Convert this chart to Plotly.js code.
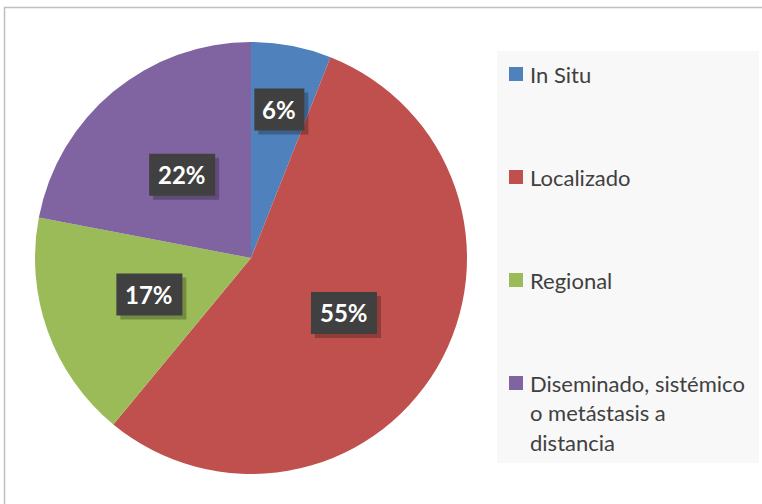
<!DOCTYPE html>
<html>
<head>
<meta charset="utf-8">
<script src="https://cdn.plot.ly/plotly-3.0.1.min.js"></script>
<style>html,body{margin:0;padding:0;background:#fff;}#chart{width:762px;height:504px;}</style>
</head>
<body>
<div id="chart"></div>
<script>
// Data
var categories = ["In Situ", "Localizado", "Regional", "Diseminado, sistémico<br>o metástasis a<br>distancia"];
var values = [6, 55, 17, 22];
var colors = ["#4F81BD", "#C0504D", "#9BBB59", "#8064A2"];

// Layout helpers (pixel -> paper)
var W = 762, H = 504;
function px(x){ return x / W; }
function py(y){ return 1 - y / H; }

var cx = 251, cy = 258, R = 216;
var labelRadius = [0.70, 0.5, 0.5, 0.5];

var total = values.reduce(function(a,b){return a+b;}, 0);
var annotations = [];
var shapes = [
  {type: "rect", xref: "paper", yref: "paper", x0: px(4.5), y0: py(7.5), x1: px(780), y1: py(520),
   line: {color: "#BFBFBF", width: 1.5}, fillcolor: "rgba(0,0,0,0)", layer: "below"},
  {type: "rect", xref: "paper", yref: "paper", x0: px(497), y0: py(51), x1: px(759), y1: py(463),
   line: {width: 0}, fillcolor: "#F8F8F8", layer: "below"}
];
var cum = 0;
values.forEach(function(v, i){
  var mid = (cum + v/2) / total * 2 * Math.PI;
  cum += v;
  var lx = cx + Math.sin(mid) * R * labelRadius[i];
  var ly = cy - Math.cos(mid) * R * labelRadius[i];
  var txt = Math.round(v / total * 100) + "%";
  var w = 18 + 16 * txt.length, h = 42;
  shapes.push({type: "rect", xref: "paper", yref: "paper", layer: "above",
    x0: px(lx - w/2 + 4), x1: px(lx + w/2 + 4), y0: py(ly - h/2 + 4), y1: py(ly + h/2 + 4),
    line: {width: 0}, fillcolor: "rgba(0,0,0,0.25)"});
  shapes.push({type: "rect", xref: "paper", yref: "paper", layer: "above",
    x0: px(lx - w/2), x1: px(lx + w/2), y0: py(ly - h/2), y1: py(ly + h/2),
    line: {width: 0}, fillcolor: "#404040"});
  annotations.push({
    x: px(lx), y: py(ly), xref: "paper", yref: "paper", showarrow: false,
    xanchor: "center", yanchor: "middle",
    text: "<b>" + txt + "</b>", font: {family: "Lato", size: 24, color: "#FFFFFF"}
  });
});

// Legend drawn manually
var legendY = [74, 177, 280, 383];
var lineGap = 29.5;
categories.forEach(function(c, i){
  var yc = legendY[i];
  shapes.push({type: "rect", xref: "paper", yref: "paper",
    x0: px(509), x1: px(523), y0: py(yc - 7), y1: py(yc + 7),
    line: {width: 0}, fillcolor: colors[i]});
  c.split("<br>").forEach(function(line, j){
    annotations.push({
      x: px(528), y: py(yc + j * lineGap), xref: "paper", yref: "paper",
      xanchor: "left", yanchor: "middle", showarrow: false,
      text: line, font: {family: "Lato", size: 22, color: "#404040"}
    });
  });
});

var trace = {
  type: "pie",
  labels: categories,
  values: values,
  marker: {colors: colors, line: {width: 0}},
  sort: false,
  direction: "clockwise",
  rotation: 0,
  textinfo: "none",
  hoverinfo: "label+percent",
  domain: {x: [px(35), px(467)], y: [py(474), py(42)]},
  showlegend: false
};

var layout = {
  width: W, height: H,
  margin: {l: 0, r: 0, t: 0, b: 0},
  paper_bgcolor: "#FFFFFF",
  showlegend: false,
  shapes: shapes,
  annotations: annotations
};

Plotly.newPlot("chart", [trace], layout, {displayModeBar: false, staticPlot: true});
</script>
</body>
</html>
